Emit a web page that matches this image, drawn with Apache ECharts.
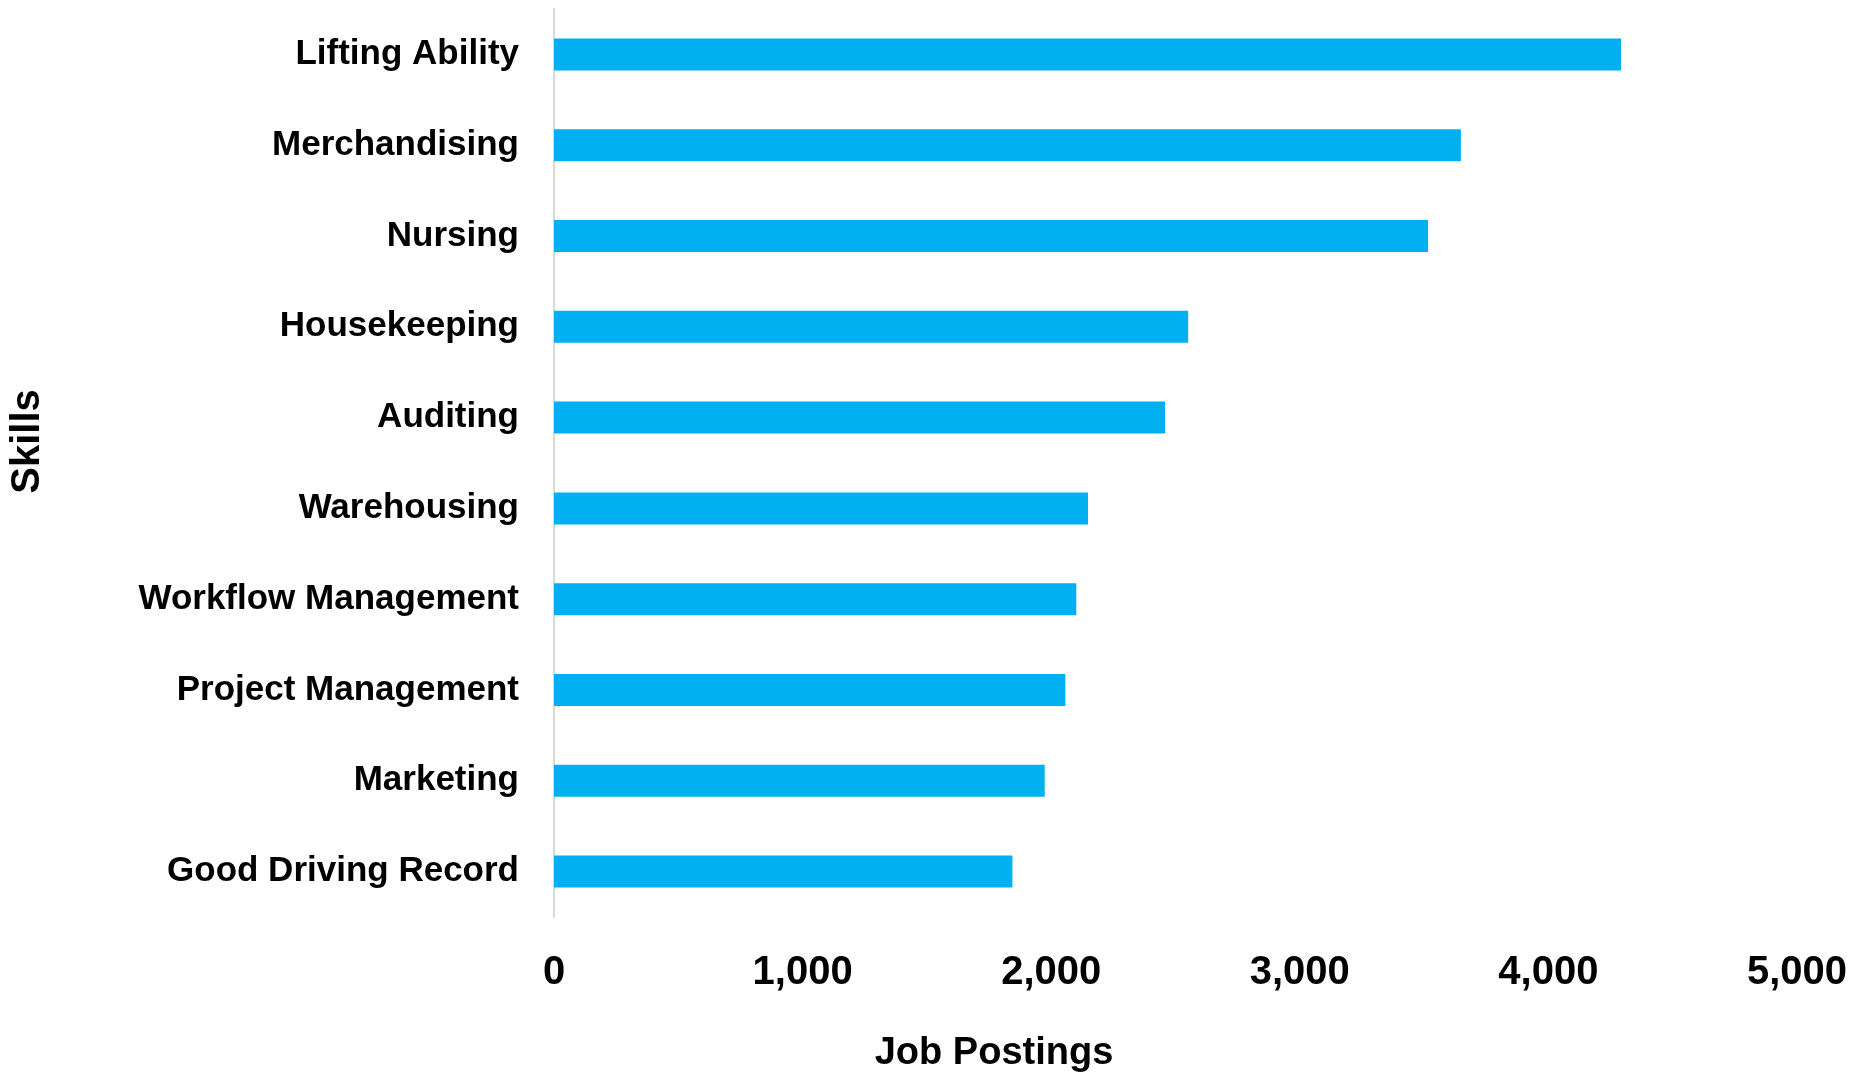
<!DOCTYPE html>
<html>
<head>
<meta charset="utf-8">
<script src="https://cdn.jsdelivr.net/npm/echarts@6/dist/echarts.min.js"></script>
<style>
html,body{margin:0;padding:0;background:#fff;}
#chart{width:1856px;height:1074px;}
</style>
</head>
<body>
<div id="chart"></div>
<script>
const skills = ["Lifting Ability","Merchandising","Nursing","Housekeeping","Auditing","Warehousing","Workflow Management","Project Management","Marketing","Good Driving Record"];
const postings = [4292,3648,3516,2551,2458,2148,2101,2057,1974,1844];
const xTicks = [0,1000,2000,3000,4000,5000];
const xTitle = "Job Postings";
const yTitle = "Skills";

const FONT = "'Liberation Sans', Arial, sans-serif";
const chart = echarts.init(document.getElementById('chart'));
chart.setOption({
  animation: false,
  backgroundColor: '#ffffff',
  grid: {left: 554, right: 59, top: 9, bottom: 157, containLabel: false, outerBoundsMode: 'none'},
  xAxis: {
    type: 'value',
    min: xTicks[0],
    max: xTicks[xTicks.length - 1],
    interval: xTicks[1] - xTicks[0],
    axisLine: {show: false},
    axisTick: {show: false},
    splitLine: {show: false},
    axisLabel: {
      margin: 36,
      color: '#000',
      fontFamily: FONT,
      fontWeight: 'bold',
      fontSize: 40,
      formatter: v => v.toLocaleString('en-US')
    },
    name: xTitle,
    nameLocation: 'middle',
    nameGap: 118,
    nameTextStyle: {color: '#000', fontFamily: FONT, fontWeight: 'bold', fontSize: 38, padding: [0, 363, 0, 0]}
  },
  yAxis: {
    type: 'category',
    data: skills,
    inverse: true,
    axisLine: {show: true, lineStyle: {color: '#d9d9d9', width: 2}},
    axisTick: {show: false},
    splitLine: {show: false},
    axisLabel: {
      margin: 35,
      color: '#000',
      fontFamily: FONT,
      fontWeight: 'bold',
      fontSize: 35
    },
    name: yTitle,
    nameLocation: 'middle',
    nameGap: 506,
    nameRotate: 90,
    nameTextStyle: {color: '#000', fontFamily: FONT, fontWeight: 'bold', fontSize: 40, padding: [0, 0, 0, 43]}
  },
  series: [{
    type: 'bar',
    data: postings,
    barWidth: 32,
    itemStyle: {color: '#00B0F0'},
    label: {show: false}
  }]
});
</script>
</body>
</html>
